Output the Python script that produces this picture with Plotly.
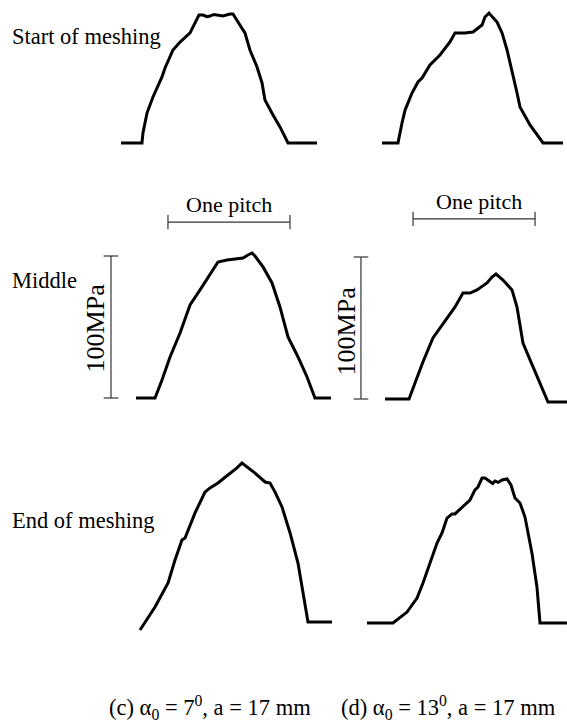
import plotly.graph_objects as go

# ---------------- data (x in pitch units, y in MPa) ----------------
start_c_x = [0, 0.172, 0.180, 0.213, 0.262, 0.336, 0.361, 0.426, 0.484, 0.566, 0.639, 0.672, 0.705, 0.730, 0.760, 0.787, 0.836, 0.893, 0.918, 0.959, 1.016, 1.057, 1.115, 1.156, 1.180, 1.246, 1.303, 1.369, 1.607]
start_c_y = [0, 0, 7.0, 21.1, 32.4, 46.5, 52.8, 65.5, 71.1, 77.5, 90.1, 90.1, 89.0, 89.4, 90.5, 90.1, 89.4, 90.8, 90.8, 85.2, 77.5, 65.5, 53.5, 42.3, 30.3, 19.7, 11.3, 0, 0]

start_d_x = [0, 0.131, 0.164, 0.189, 0.246, 0.295, 0.328, 0.393, 0.475, 0.557, 0.598, 0.680, 0.746, 0.820, 0.844, 0.877, 0.943, 0.984, 1.025, 1.066, 1.107, 1.131, 1.213, 1.320, 1.484]
start_d_y = [0, 0, 14.1, 23.2, 35.2, 43.0, 45.8, 54.9, 62.0, 71.1, 77.5, 77.5, 78.2, 83.1, 88.7, 91.5, 85.2, 77.5, 65.5, 51.4, 35.2, 25.4, 12.7, 0, 0]

mid_c_x = [0, 0.156, 0.213, 0.279, 0.361, 0.443, 0.525, 0.590, 0.672, 0.746, 0.811, 0.877, 0.918, 0.951, 0.975, 1.041, 1.115, 1.180, 1.246, 1.328, 1.402, 1.467, 1.598]
mid_c_y = [0, 0, 12.7, 28.9, 45.8, 65.5, 76.1, 85.2, 95.8, 97.2, 97.9, 98.6, 100.7, 102.1, 100.0, 92.3, 81.0, 64.1, 43.0, 28.9, 14.8, 0, 0]

mid_d_x = [0, 0.197, 0.246, 0.311, 0.393, 0.451, 0.516, 0.574, 0.639, 0.697, 0.754, 0.836, 0.877, 0.910, 0.967, 1.041, 1.082, 1.131, 1.189, 1.270, 1.336, 1.492]
mid_d_y = [0, 0, 11.3, 26.1, 43.0, 50.0, 57.0, 64.8, 74.6, 74.6, 76.8, 81.7, 85.9, 88.0, 83.8, 76.8, 64.8, 39.4, 27.5, 11.3, -2.1, -2.1]

end_c_x = [0, 0.123, 0.230, 0.287, 0.344, 0.369, 0.451, 0.533, 0.574, 0.639, 0.721, 0.795, 0.836, 0.877, 0.943, 1.025, 1.066, 1.107, 1.164, 1.230, 1.295, 1.377, 1.574]
end_c_y = [-5.6, 10.6, 27.5, 43.7, 57.7, 59.2, 76.8, 91.5, 94.4, 97.9, 103.5, 108.5, 112.0, 109.2, 104.9, 98.6, 97.9, 91.5, 81.0, 62.7, 41.5, 0, 0]

end_d_x = [0, 0.213, 0.328, 0.410, 0.459, 0.516, 0.574, 0.615, 0.656, 0.697, 0.721, 0.844, 0.885, 0.910, 0.943, 0.967, 0.990, 1.008, 1.030, 1.049, 1.075, 1.107, 1.148, 1.180, 1.213, 1.254, 1.295, 1.352, 1.393, 1.418, 1.639]
end_d_y = [0, 0, 7.7, 17.6, 28.2, 42.3, 56.3, 63.4, 73.9, 76.8, 76.8, 86.6, 93.7, 95.8, 102.1, 102.1, 100.5, 99.3, 98.3, 100.0, 99.0, 100.7, 101.4, 97.2, 88.0, 84.5, 74.6, 49.3, 25.4, 0, 0]

row_labels = ["Start of meshing", "Middle", "End of meshing"]
captions = ["(c) α<sub>0</sub> = 7<sup>0</sup>, a = 17 mm", "(d) α<sub>0</sub> = 13<sup>0</sup>, a = 17 mm"]
pitch_label = "One pitch"
stress_label = "100MPa"
scale_stress = 100  # MPa
scale_pitch = 1     # pitch

# ---------------- layout geometry (pixels) ----------------
W, H = 567, 722
PX_PER_PITCH = 122.0
PX_PER_MPA = 1.42
FONT = "Liberation Serif"

# panel: (data x, data y, box L, R, T, B, origin px x0, baseline px)
panels = [
    (start_c_x, start_c_y, 95, 340, 0, 160, 121, 143),
    (start_d_x, start_d_y, 340, 567, 0, 160, 382, 143),
    (mid_c_x, mid_c_y, 85, 340, 190, 415, 136, 398),
    (mid_d_x, mid_d_y, 335, 567, 190, 415, 385, 399),
    (end_c_x, end_c_y, 95, 340, 440, 645, 140, 622),
    (end_d_x, end_d_y, 340, 567, 440, 645, 367, 623),
]

fig = go.Figure()
layout = dict(width=W, height=H, margin=dict(l=0, r=0, t=0, b=0),
              paper_bgcolor="white", plot_bgcolor="white", showlegend=False)

for i, (xs, ys, L, R, T, B, x0, base) in enumerate(panels, start=1):
    xk = "xaxis" if i == 1 else f"xaxis{i}"
    yk = "yaxis" if i == 1 else f"yaxis{i}"
    xr = "x" if i == 1 else f"x{i}"
    yr = "y" if i == 1 else f"y{i}"
    layout[xk] = dict(domain=[L / W, R / W],
                      range=[(L - x0) / PX_PER_PITCH, (R - x0) / PX_PER_PITCH],
                      visible=False, anchor=yr, fixedrange=True)
    layout[yk] = dict(domain=[1 - B / H, 1 - T / H],
                      range=[(base - B) / PX_PER_MPA, (base - T) / PX_PER_MPA],
                      visible=False, anchor=xr, fixedrange=True)
    fig.add_trace(go.Scatter(x=xs, y=ys, xaxis=xr, yaxis=yr, mode="lines",
                             line=dict(color="black", width=3, shape="linear"),
                             hoverinfo="skip"))

fig.update_layout(**layout)

# scale bars in middle panels
bar_specs = [
    # axis suffix, pitch bar start x, pitch bar y, stress bar x, text x for stress, stress text y, pitch text shift
    ("3", 0.262, 123.9, -0.205, -0.336, 49.0, 0),
    ("4", 0.230, 126.8, -0.197, -0.315, 48.0, 5),
]
shapes = []
annotations = []
bar_col = "#333333"
for ax, px0, py, sx, tx, ty, xs_shift in bar_specs:
    xref, yref = "x" + ax, "y" + ax
    # one pitch bar
    shapes.append(dict(type="line", xref=xref, yref=yref, x0=px0, x1=px0 + scale_pitch, y0=py, y1=py,
                       line=dict(color=bar_col, width=1.2)))
    for xe in (px0, px0 + scale_pitch):
        shapes.append(dict(type="line", xref=xref, yref=yref, x0=xe, x1=xe, y0=py - 5, y1=py + 5,
                           line=dict(color=bar_col, width=1.2)))
    annotations.append(dict(text=pitch_label, xref=xref, yref=yref, x=px0 + scale_pitch / 2, y=py,
                            xanchor="center", yanchor="bottom", yshift=3, xshift=xs_shift,
                            showarrow=False, font=dict(family=FONT, size=22, color="black")))
    # 100 MPa bar
    shapes.append(dict(type="line", xref=xref, yref=yref, x0=sx, x1=sx, y0=0, y1=scale_stress,
                       line=dict(color=bar_col, width=1.2)))
    for ye in (0, scale_stress):
        shapes.append(dict(type="line", xref=xref, yref=yref, x0=sx - 0.06, x1=sx + 0.06, y0=ye, y1=ye,
                           line=dict(color=bar_col, width=1.2)))
    annotations.append(dict(text=stress_label, xref=xref, yref=yref, x=tx, y=ty, textangle=-90,
                            xanchor="center", yanchor="middle", showarrow=False,
                            font=dict(family=FONT, size=26, color="black")))

# row labels
for label, py in zip(row_labels, [37, 280, 520]):
    annotations.append(dict(text=label, xref="paper", yref="paper", x=10 / W, y=1 - py / H,
                            xanchor="left", yanchor="middle", showarrow=False,
                            font=dict(family=FONT, size=22.5, color="black")))

# captions
for cap, cx in zip(captions, [107, 339]):
    annotations.append(dict(text=cap, xref="paper", yref="paper", x=cx / W, y=1 - 707 / H,
                            xanchor="left", yanchor="middle", showarrow=False,
                            font=dict(family=FONT, size=22.5, color="black")))

fig.update_layout(shapes=shapes, annotations=annotations)
fig.write_html("out.html", config={"displayModeBar": False},
               post_script="document.body.style.margin='0';document.body.style.overflow='hidden';")
